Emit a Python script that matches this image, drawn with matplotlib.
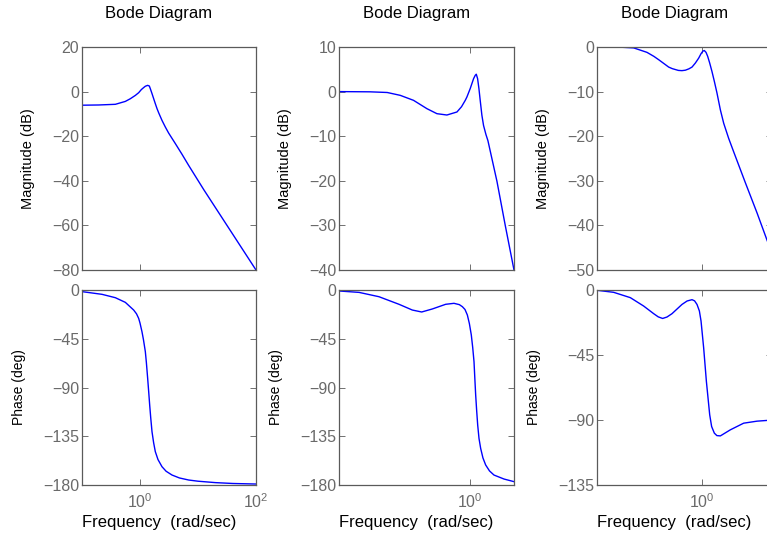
import numpy as np
import matplotlib.pyplot as plt
from matplotlib.ticker import FixedLocator, FixedFormatter, NullLocator

plt.rcParams['font.family'] = ['Liberation Sans', 'DejaVu Sans']
plt.rcParams['mathtext.fontset'] = 'custom'
plt.rcParams['mathtext.rm'] = 'Liberation Sans'
plt.rcParams['mathtext.default'] = 'regular'

# values: log10 of frequency (rad/sec) and dB / deg
mag1_logw = [-1.0, -0.713, -0.425, -0.253, -0.167, -0.08, -0.023, 0.023, 0.063, 0.092, 0.132,
             0.161, 0.178, 0.207, 0.236, 0.264, 0.293, 0.322, 0.379, 0.437, 0.494, 0.609,
             0.724, 0.839, 1.1, 1.4, 1.7, 2.0]
mag1_db = [-6.1, -6.0, -5.7, -4.4, -3.2, -1.7, -0.5, 0.9, 1.8, 2.4, 2.8,
           2.5, 1.3, -0.9, -3.2, -5.4, -7.6, -9.5, -12.9, -15.9, -18.6, -23.3,
           -28.1, -33.1, -44.0, -56.0, -68.0, -80.0]
ph1_logw = [-1.0, -0.655, -0.425, -0.253, -0.109, -0.06, -0.023, 0.0, 0.034, 0.06, 0.092, 0.11,
            0.132, 0.15, 0.167, 0.185, 0.207, 0.235, 0.264, 0.31, 0.379, 0.45, 0.552, 0.68,
            0.839, 1.0, 1.299, 1.6, 2.0]
ph1_deg = [-1.5, -4.0, -7.1, -11.4, -18.5, -22.0, -26.2, -30.5, -38.5, -46.0, -56.9, -67.0,
           -81.5, -94.0, -106.2, -118.0, -130.8, -141.0, -149.2, -156.5, -163.1, -167.3, -170.8, -173.5,
           -175.4, -176.5, -177.8, -178.6, -179.1]

mag2_logw = [-1.5, -1.146, -0.949, -0.8, -0.648, -0.495, -0.381, -0.267, -0.152, -0.1, -0.057,
             -0.038, 0.0, 0.019, 0.038, 0.057, 0.069, 0.084, 0.099, 0.114, 0.133, 0.152,
             0.179, 0.202, 0.305, 0.40, 0.5]
mag2_db = [0.0, -0.05, -0.2, -0.84, -1.96, -3.83, -4.95, -5.25, -4.57, -3.4, -1.96,
           -1.2, 0.7, 1.8, 2.9, 3.65, 3.9, 2.9, 0.7, -2.0, -5.3, -7.6,
           -9.6, -11.0, -20.1, -30.0, -40.0]
ph2_logw = [-1.5, -1.271, -1.043, -0.814, -0.662, -0.555, -0.433, -0.281, -0.186, -0.125, -0.09,
            -0.06, -0.033, -0.01, 0.012, 0.028, 0.043, 0.052, 0.062, 0.073, 0.085, 0.1, 0.119,
            0.145, 0.176, 0.22, 0.271, 0.386, 0.5]
ph2_deg = [-0.9, -2.2, -6.2, -13.2, -18.5, -20.3, -17.5, -13.2, -12.3, -13.5, -15.4,
           -18.0, -23.1, -31.0, -41.5, -53.0, -66.2, -81.0, -96.9, -111.0, -124.6, -137.0, -146.2,
           -155.0, -161.5, -167.0, -170.8, -174.5, -176.9]

mag3_logw = [-1.2, -0.971, -0.781, -0.629, -0.55, -0.495, -0.45, -0.381, -0.34, -0.27, -0.229,
             -0.19, -0.15, -0.114, -0.076, -0.038, -0.011, 0.011, 0.027, 0.046, 0.065, 0.088,
             0.114, 0.141, 0.171, 0.21, 0.248, 0.305, 0.362, 0.495, 0.629, 0.743, 0.8]
mag3_db = [0.0, 0.0, -0.2, -1.2, -2.1, -2.85, -3.5, -4.5, -4.85, -5.25, -5.3,
           -5.2, -4.9, -4.5, -3.6, -2.5, -1.5, -0.9, -0.8, -1.2, -2.1, -3.6,
           -5.5, -7.7, -10.3, -14.1, -17.1, -20.5, -23.5, -30.4, -37.2, -43.3, -46.2]
ph3_logw = [-1.2, -1.01, -0.819, -0.667, -0.552, -0.5, -0.45, -0.4, -0.343, -0.229, -0.17,
            -0.114, -0.085, -0.057, -0.03, -0.011, 0.019, 0.05, 0.088, 0.11, 0.141, 0.17,
            0.21, 0.324, 0.476, 0.629, 0.743, 0.8]
ph3_deg = [-0.2, -1.6, -5.3, -11.1, -16.4, -18.6, -19.7, -18.7, -16.4, -10.0, -7.6,
           -6.7, -7.5, -10.0, -14.5, -21.5, -40.1, -63.2, -86.4, -94.5, -99.1, -100.8,
           -101.0, -96.8, -92.2, -90.8, -90.3, -90.1]

x_ranges = [(-1.0, 2.0), (-1.5, 0.5), (-1.2, 0.8)]
x_ticks = [[1, 100], [1], [1]]
x_ticklabels = [['$10^{0}$', '$10^{2}$'], ['$10^{0}$'], ['$10^{0}$']]
mag_ticks = [[20, 0, -20, -40, -60, -80], [10, 0, -10, -20, -30, -40], [0, -10, -20, -30, -40, -50]]
ph_ticks = [[0, -45, -90, -135, -180], [0, -45, -90, -135, -180], [0, -45, -90, -135]]

mags = [(mag1_logw, mag1_db), (mag2_logw, mag2_db), (mag3_logw, mag3_db)]
phases = [(ph1_logw, ph1_deg), (ph2_logw, ph2_deg), (ph3_logw, ph3_deg)]

W, H = 767, 538
lefts = [82, 339, 597]
widths = [174, 175, 175]
tick_gray = '#6a6a6a'
spine_gray = '#5a5a5a'

fig = plt.figure(figsize=(W / 100, H / 100), dpi=100)


def style(ax, xr, yt, xt, xtl, show_x):
    ax.set_xscale('log')
    ax.set_xlim(10 ** xr[0], 10 ** xr[1])
    ax.set_ylim(min(yt), max(yt))
    ax.yaxis.set_major_locator(FixedLocator(yt))
    ax.xaxis.set_major_locator(FixedLocator(xt))
    ax.xaxis.set_minor_locator(NullLocator())
    if show_x:
        ax.xaxis.set_major_formatter(FixedFormatter(xtl))
    else:
        ax.set_xticklabels([])
    ax.tick_params(direction='in', top=True, right=True, length=4, width=0.6,
                   colors=spine_gray, labelcolor=tick_gray, labelsize=11.5)
    ax.tick_params(axis='y', pad=2)
    ax.tick_params(axis='x', pad=5)
    for s in ax.spines.values():
        s.set_color(spine_gray)
        s.set_linewidth(0.9)


for i in range(3):
    x0 = lefts[i] / W
    w = widths[i] / W
    axm = fig.add_axes([x0, 1 - 270 / H, w, 223 / H])
    axp = fig.add_axes([x0, 1 - 485 / H, w, 195 / H])

    lw, db = mags[i]
    axm.plot(10 ** np.array(lw), db, color='#0000ff', lw=1.0)
    style(axm, x_ranges[i], mag_ticks[i], x_ticks[i], x_ticklabels[i], False)
    axm.set_ylabel('Magnitude (dB)', fontsize=10.5, va='center')
    axm.yaxis.set_label_coords(-54 / widths[i], 0.5)
    axm.set_title('Bode Diagram', fontsize=12, pad=21)
    axm.title.set_x(0.5 - 10 / widths[i])

    lw, deg = phases[i]
    axp.plot(10 ** np.array(lw), deg, color='#0000ff', lw=1.0)
    style(axp, x_ranges[i], ph_ticks[i], x_ticks[i], x_ticklabels[i], True)
    axp.set_ylabel('Phase (deg)', fontsize=10, va='center')
    axp.yaxis.set_label_coords(-63 / widths[i], 0.5)
    axp.set_xlabel('Frequency  (rad/sec)', fontsize=12, va='baseline')
    axp.xaxis.set_label_coords(0.5 - 10 / widths[i], -42 / 195)

fig.savefig('out.png', dpi=100)
